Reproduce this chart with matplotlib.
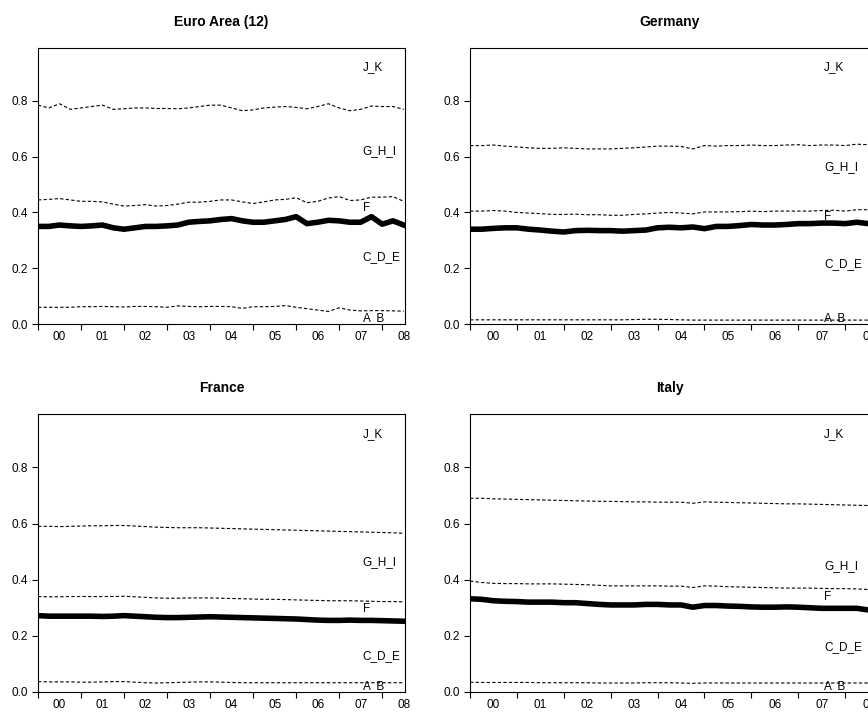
import numpy as np
import matplotlib.pyplot as plt
from matplotlib.ticker import FixedLocator, NullFormatter

plt.rcParams['font.family'] = ['Liberation Sans', 'DejaVu Sans']

quarters = 2000 + np.arange(35) / 4.0
years = ['00', '01', '02', '03', '04', '05', '06', '07', '08']
bands = ['A_B', 'C_D_E', 'F', 'G_H_I', 'J_K']

ea_ab = [0.06, 0.06, 0.06, 0.06, 0.062, 0.062, 0.063, 0.062, 0.061, 0.063, 0.063, 0.062, 0.06, 0.065, 0.063, 0.062,
         0.063, 0.063, 0.062, 0.056, 0.062, 0.062, 0.063, 0.066, 0.06, 0.055, 0.05, 0.045, 0.058, 0.05, 0.047, 0.048, 0.048, 0.047, 0.046]
ea_cde = [0.35, 0.35, 0.355, 0.352, 0.35, 0.352, 0.355, 0.345, 0.34, 0.345, 0.35, 0.35, 0.352, 0.355, 0.365, 0.368,
          0.37, 0.375, 0.378, 0.37, 0.365, 0.365, 0.37, 0.375, 0.385, 0.36, 0.365, 0.372, 0.37, 0.365, 0.365, 0.385, 0.358, 0.37, 0.355]
ea_f = [0.445, 0.447, 0.45, 0.445, 0.44, 0.44, 0.438, 0.43, 0.423, 0.425, 0.428, 0.423, 0.425, 0.43, 0.437, 0.437,
        0.44, 0.445, 0.445, 0.438, 0.432, 0.438, 0.445, 0.447, 0.453, 0.435, 0.44, 0.452, 0.457, 0.443, 0.445, 0.455, 0.455, 0.457, 0.44]
ea_ghi = [0.785, 0.775, 0.79, 0.77, 0.775, 0.78, 0.785, 0.77, 0.772, 0.775, 0.775, 0.773, 0.773, 0.772, 0.775, 0.78,
          0.785, 0.785, 0.775, 0.765, 0.768, 0.775, 0.778, 0.78, 0.777, 0.772, 0.78, 0.79, 0.775, 0.765, 0.77, 0.782, 0.78, 0.78, 0.77]

de_ab = [0.015] * 14 + [0.016, 0.017, 0.017, 0.016, 0.015] + [0.014] * 16
de_cde = [0.34, 0.34, 0.343, 0.345, 0.345, 0.34, 0.337, 0.333, 0.33, 0.335, 0.336, 0.335, 0.335, 0.333, 0.335, 0.337,
          0.345, 0.347, 0.345, 0.348, 0.342, 0.35, 0.35, 0.353, 0.357, 0.355, 0.355, 0.357, 0.36, 0.36, 0.362, 0.362, 0.36, 0.365, 0.36]
de_f = [0.405, 0.405, 0.407, 0.405, 0.4, 0.398, 0.396, 0.393, 0.393, 0.394, 0.392, 0.392, 0.39, 0.39, 0.393, 0.395,
        0.398, 0.4, 0.398, 0.395, 0.402, 0.402, 0.402, 0.403, 0.405, 0.403, 0.405, 0.405, 0.405, 0.405, 0.407, 0.408, 0.405, 0.41, 0.41]
de_ghi = [0.64, 0.64, 0.642, 0.638, 0.635, 0.632, 0.63, 0.63, 0.632, 0.63, 0.628, 0.628, 0.628, 0.63, 0.632, 0.635,
          0.638, 0.638, 0.637, 0.628, 0.64, 0.638, 0.64, 0.64, 0.642, 0.64, 0.64, 0.642, 0.643, 0.64, 0.642, 0.642, 0.64, 0.645, 0.643]

fr_ab = [0.037, 0.036, 0.036, 0.036, 0.035, 0.035, 0.036, 0.037, 0.037, 0.035, 0.033, 0.032, 0.033, 0.034, 0.035, 0.036,
         0.036, 0.035, 0.034, 0.033, 0.033, 0.033, 0.033, 0.033, 0.033, 0.033, 0.033, 0.033, 0.033, 0.033, 0.033, 0.033, 0.033, 0.033, 0.033]
fr_cde = [0.272, 0.27, 0.27, 0.27, 0.27, 0.27, 0.269, 0.27, 0.272, 0.27, 0.268, 0.266, 0.265, 0.265, 0.266, 0.267,
          0.268, 0.267, 0.266, 0.265, 0.264, 0.263, 0.262, 0.261, 0.26, 0.258, 0.256, 0.255, 0.255, 0.256, 0.255, 0.255, 0.254, 0.253, 0.252]
fr_f = [0.34, 0.339, 0.339, 0.34, 0.34, 0.34, 0.34, 0.34, 0.341, 0.339, 0.337, 0.335, 0.334, 0.334, 0.335, 0.335,
        0.335, 0.334, 0.333, 0.332, 0.331, 0.33, 0.33, 0.329, 0.328, 0.327, 0.326, 0.325, 0.325, 0.325, 0.324, 0.323, 0.322, 0.322, 0.321]
fr_ghi = [0.59, 0.59, 0.589, 0.59, 0.591, 0.592, 0.592, 0.593, 0.593, 0.591, 0.589, 0.587, 0.586, 0.585, 0.585, 0.585,
          0.584, 0.583, 0.582, 0.581, 0.58, 0.579, 0.578, 0.577, 0.576, 0.575, 0.574, 0.573, 0.572, 0.571, 0.57, 0.569, 0.568, 0.567, 0.565]

it_ab = [0.035, 0.034, 0.034, 0.034, 0.034, 0.034, 0.033, 0.033, 0.033, 0.033, 0.033, 0.032, 0.032, 0.032, 0.032, 0.033,
         0.033, 0.033, 0.032, 0.031, 0.032, 0.032, 0.032, 0.032, 0.032, 0.032, 0.032, 0.032, 0.032, 0.032, 0.032, 0.032, 0.032, 0.032, 0.032]
it_cde = [0.332, 0.33, 0.325, 0.323, 0.322, 0.32, 0.32, 0.32, 0.318, 0.318, 0.315, 0.312, 0.31, 0.31, 0.31, 0.312,
          0.312, 0.31, 0.31, 0.302, 0.308, 0.308, 0.306, 0.305, 0.303, 0.302, 0.302, 0.303, 0.302, 0.3, 0.298, 0.298, 0.298, 0.298, 0.292]
it_f = [0.395, 0.39, 0.387, 0.386, 0.386, 0.385, 0.385, 0.385, 0.384, 0.383, 0.382, 0.38, 0.378, 0.378, 0.378, 0.378,
        0.378, 0.377, 0.377, 0.372, 0.378, 0.377, 0.375, 0.374, 0.373, 0.372, 0.371, 0.37, 0.37, 0.37, 0.369, 0.368, 0.368, 0.367, 0.365]
it_ghi = [0.69, 0.69, 0.688, 0.687, 0.686, 0.685, 0.684, 0.683, 0.682, 0.681, 0.68, 0.679, 0.679, 0.678, 0.677, 0.677,
          0.676, 0.676, 0.676, 0.672, 0.677, 0.676, 0.675, 0.674, 0.673, 0.672, 0.671, 0.67, 0.67, 0.669, 0.668, 0.667, 0.666, 0.665, 0.664]

panels = [
    ('Euro Area (12)', ea_ab, ea_cde, ea_f, ea_ghi, [0.02, 0.24, 0.415, 0.62, 0.92]),
    ('Germany', de_ab, de_cde, de_f, de_ghi, [0.02, 0.215, 0.383, 0.564, 0.92]),
    ('France', fr_ab, fr_cde, fr_f, fr_ghi, [0.02, 0.128, 0.296, 0.463, 0.92]),
    ('Italy', it_ab, it_cde, it_f, it_ghi, [0.02, 0.16, 0.338, 0.449, 0.92]),
]

fig = plt.figure(figsize=(8.68, 7.18), dpi=100)
boxes = [(38, 48, 367, 276), (470, 48, 400, 276), (38, 414, 367, 278), (470, 414, 400, 278)]

for (title, ab, cde, f, ghi, label_y), (x0, y0, w, h) in zip(panels, boxes):
    ax = fig.add_axes([x0 / 868, 1 - (y0 + h) / 718, w / 868, h / 718])
    ax.plot(quarters, ab, 'k--', lw=0.8, dashes=(3, 2))
    ax.plot(quarters, cde, 'k-', lw=4)
    ax.plot(quarters, f, 'k--', lw=0.8, dashes=(3, 2))
    ax.plot(quarters, ghi, 'k--', lw=0.8, dashes=(3, 2))
    for name, ly in zip(bands, label_y):
        ax.text(2007.55, ly, name, fontsize=8.5, va='center')
    ax.set_xlim(2000, 2008.53)
    ax.set_ylim(0, 0.99)
    ax.set_yticks([0.0, 0.2, 0.4, 0.6, 0.8])
    ax.set_yticklabels(['0.0', '0.2', '0.4', '0.6', '0.8'], fontsize=8.5)
    ax.xaxis.set_major_locator(FixedLocator(np.arange(2000, 2009)))
    ax.xaxis.set_major_formatter(NullFormatter())
    ax.xaxis.set_minor_locator(FixedLocator(np.arange(2000, 2009) + 0.5))
    ax.set_xticklabels(years, minor=True, fontsize=8.5)
    ax.tick_params(axis='x', which='minor', length=0, pad=5)
    ax.tick_params(axis='x', which='major', length=4, direction='out')
    ax.tick_params(axis='y', length=4, direction='out')
    ax.set_title(title, fontsize=10, fontweight='bold', pad=16)

fig.savefig('out.png', dpi=100)
